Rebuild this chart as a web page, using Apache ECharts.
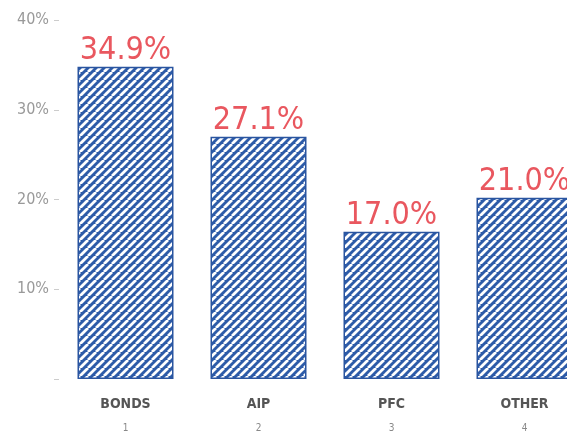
<!DOCTYPE html>
<html><head><meta charset="utf-8">
<script src="https://cdn.jsdelivr.net/npm/echarts@6/dist/echarts.min.js"></script>
<style>html,body{margin:0;padding:0;background:#fff;overflow:hidden;width:567px;height:435px}#c{width:591px;height:435px}</style>
</head><body><div id="c"></div>
<script>
const categories = ['BONDS', 'AIP', 'PFC', 'OTHER'];
const indexLabels = ['1', '2', '3', '4'];
const barValues = [34.8, 27.0, 16.4, 20.2];
const valueLabels = ['34.9%', '27.1%', '17.0%', '21.0%'];
const yTicks = [0, 10, 20, 30, 40];

function stripes() {
  const s = 8;
  const cv = document.createElement('canvas');
  cv.width = s; cv.height = s;
  const g = cv.getContext('2d');
  g.fillStyle = '#2d5ba8';
  g.fillRect(0, 0, s, s);
  g.strokeStyle = '#ffffff';
  g.lineWidth = 2.8;
  g.beginPath();
  for (let k = -1; k <= 1; k++) {
    g.moveTo(k * s, s); g.lineTo(k * s + s, 0);
  }
  g.stroke();
  return cv;
}

const chart = echarts.init(document.getElementById('c'), null, {renderer: 'canvas'});
const font = '"Liberation Sans Narrow", "Arial Narrow", "DejaVu Sans Condensed", "Roboto", sans-serif';
chart.setOption({
  animation: false,
  grid: {left: 59, right: 0, top: 20, bottom: 56},
  xAxis: {
    type: 'category',
    data: categories,
    axisLine: {show: false},
    axisTick: {show: false},
    axisLabel: {
      margin: 12,
      formatter: (v, i) => '{a|' + v + '}\n{b|' + indexLabels[i] + '}',
      rich: {
        a: {fontFamily: font, fontSize: 14, fontWeight: 'bold', color: '#555', lineHeight: 26},
        b: {fontFamily: font, fontSize: 10, color: '#888', lineHeight: 22}
      }
    }
  },
  yAxis: {
    type: 'value',
    min: yTicks[0], max: yTicks[yTicks.length - 1], interval: 10,
    splitLine: {show: false},
    axisLine: {show: false},
    axisTick: {show: true, length: 5, lineStyle: {color: '#ccc'}},
    axisLabel: {
      margin: 10,
      formatter: v => v === 0 ? '' : v + '%',
      fontFamily: font, fontSize: 16, color: '#999'
    }
  },
  series: [{
    type: 'bar',
    data: barValues,
    barWidth: 96,
    itemStyle: {
      color: {image: stripes(), repeat: 'repeat'},
      borderColor: '#2a55a0',
      borderWidth: 1.5
    },
    label: {
      show: true,
      position: 'top',
      distance: 0,
      formatter: p => valueLabels[p.dataIndex],
      fontFamily: font,
      fontSize: 32,
      color: '#e9575f'
    }
  }]
});
</script></body></html>
